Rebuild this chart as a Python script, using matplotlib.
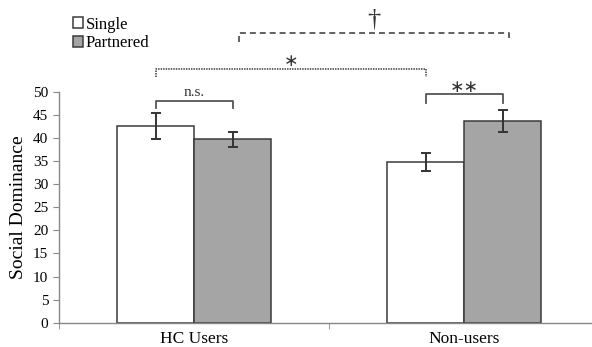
import matplotlib
matplotlib.use("Agg")
import matplotlib.pyplot as plt
import numpy as np

# data
groups = ["HC Users", "Non-users"]
series = ["Single", "Partnered"]
single_means = [42.5, 34.8]
single_err = [2.8, 1.95]
partnered_means = [39.7, 43.7]
partnered_err = [1.6, 2.4]

plt.rcParams['font.family'] = ['Liberation Serif', 'DejaVu Serif']

fig = plt.figure(figsize=(5.92, 3.47), dpi=100)
ax = fig.add_axes([59.3 / 592, 1 - 322.7 / 347, 540 / 592, 231 / 347])

x = np.arange(len(groups))
w = 0.285
edge = "#3a3a3a"
b1 = ax.bar(x - w / 2, single_means, w, color="white", edgecolor=edge, linewidth=1.1,
            yerr=single_err, capsize=3.5, error_kw=dict(ecolor="#333333", elinewidth=1.4, capthick=1.4),
            label=series[0])
b2 = ax.bar(x + w / 2, partnered_means, w, color="#a5a5a5", edgecolor=edge, linewidth=1.1,
            yerr=partnered_err, capsize=3.5, error_kw=dict(ecolor="#333333", elinewidth=1.4, capthick=1.4),
            label=series[1])

ax.set_xlim(-0.5, 1.5)
ax.set_ylim(0, 50)
ax.set_yticks(np.arange(0, 51, 5))
ax.set_xticks(x)
ax.set_xticklabels(groups, fontsize=12.5)
ax.set_xticks([-0.5, 0.5, 1.5], minor=True)
ax.tick_params(axis="x", which="major", length=0, pad=6)
ax.tick_params(axis="x", which="minor", length=4, color="#888888", direction="out")
ax.tick_params(axis="y", length=4, color="#888888", labelsize=11, pad=4)
for s in ["top", "right"]:
    ax.spines[s].set_visible(False)
for s in ["left", "bottom"]:
    ax.spines[s].set_color("#888888")
    ax.spines[s].set_linewidth(1.0)
ax.set_ylabel("Social Dominance", fontsize=14, labelpad=4)


def bracket(x0, x1, ytop, drop, text, ls, tsize, ty, fam=None):
    ax.plot([x0, x0, x1, x1], [ytop - drop, ytop, ytop, ytop - drop], color="#555555",
            linestyle=ls, linewidth=1.3, clip_on=False)
    kw = {} if fam is None else {"family": fam}
    ax.text((x0 + x1) / 2, ty, text, ha="center", va="center", fontsize=tsize, color="#333333", **kw)


xs_single = x - w / 2
xs_part = x + w / 2
star_font = ["DejaVu Sans"]
bracket(xs_single[0], xs_part[0], 48.0, 1.6, "n.s.", "-", 11, 49.8)
bracket(xs_single[1], xs_part[1], 49.5, 2.0, "\u2217\u2217", "-", 12.5, 51.1, star_font)
bracket(xs_single[0], xs_single[1], 54.9, 1.8, "\u2217", (0, (0.8, 0.6)), 12.5, 56.6, star_font)
bracket(xs_part[0] + 0.022, xs_part[1] + 0.022, 62.6, 1.8, "\u2020", (0, (3.3, 2.2)), 19, 65.6)

fig.legend(handles=[b1, b2], labels=series, loc="upper left", bbox_to_anchor=(66 / 592, 1 - 10 / 347),
           frameon=False, fontsize=12, handlelength=0.6, handleheight=0.6, handletextpad=0.2,
           labelspacing=0.15, borderaxespad=0)

fig.savefig("out.png", dpi=100)
